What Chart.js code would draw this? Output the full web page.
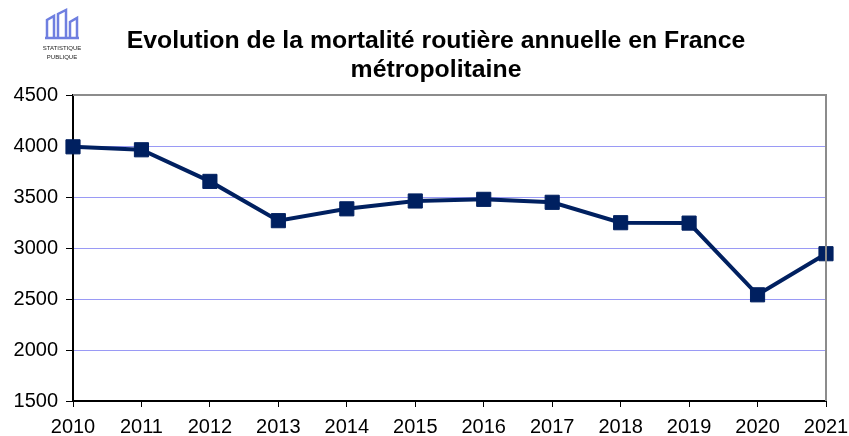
<!DOCTYPE html>
<html>
<head>
<meta charset="utf-8">
<script src="https://cdn.jsdelivr.net/npm/chart.js@4"></script>
<style>
  html, body { margin: 0; padding: 0; background: #fff; }
  #wrap { width: 849px; height: 436px; }
</style>
</head>
<body>
<div id="wrap"><canvas id="roadChart" width="849" height="436"></canvas></div>
<script>
// data
const years = ["2010", "2011", "2012", "2013", "2014", "2015", "2016", "2017", "2018", "2019", "2020", "2021"];
const deaths = [3992, 3963, 3653, 3268, 3384, 3461, 3477, 3448, 3248, 3244, 2541, 2944];
const titleLines = ["Evolution de la mortalité routière annuelle en France", "métropolitaine"];
const logoLines = ["STATISTIQUE", "PUBLIQUE"];

const navy = "#002060";

// title + logo + grey frame on top/right
const decorations = {
    id: "decorations",
    afterDraw(chart) {
        const ctx = chart.ctx;
        const area = chart.chartArea;
        ctx.save();

        // frame (top and right are grey)
        ctx.strokeStyle = "#8c8c8c";
        ctx.lineWidth = 2;
        ctx.beginPath();
        ctx.moveTo(area.left, area.top);
        ctx.lineTo(area.right, area.top);
        ctx.lineTo(area.right, area.bottom);
        ctx.stroke();

        // title
        ctx.fillStyle = "#000";
        ctx.font = "bold 24.8px 'Liberation Sans', Arial, sans-serif";
        ctx.textAlign = "center";
        ctx.textBaseline = "alphabetic";
        ctx.fillText(titleLines[0], 436, 48);
        ctx.fillText(titleLines[1], 436, 77);

        // logo
        ctx.strokeStyle = "#6f7fe0";
        ctx.lineWidth = 2.5;
        ctx.beginPath();
        ctx.moveTo(47, 38); ctx.lineTo(47, 20); ctx.lineTo(54, 16); ctx.lineTo(54, 38);
        ctx.moveTo(58, 38); ctx.lineTo(58, 14); ctx.lineTo(66, 10); ctx.lineTo(66, 38);
        ctx.moveTo(70, 38); ctx.lineTo(70, 22); ctx.lineTo(77, 18); ctx.lineTo(77, 38);
        ctx.moveTo(45, 38); ctx.lineTo(79, 38);
        ctx.stroke();
        ctx.fillStyle = "#222";
        ctx.font = "6px 'Liberation Sans', Arial, sans-serif";
        ctx.textBaseline = "middle";
        ctx.fillText(logoLines[0], 62, 48);
        ctx.fillText(logoLines[1], 62, 57);

        ctx.restore();
    }
};

new Chart(document.getElementById("roadChart"), {
    type: "line",
    data: {
        labels: years,
        datasets: [{
            data: deaths,
            borderColor: navy,
            backgroundColor: navy,
            borderWidth: 4,
            pointStyle: "rect",
            pointRadius: 10,
            pointHoverRadius: 10,
            pointBorderWidth: 1,
            tension: 0
        }]
    },
    options: {
        responsive: false,
        animation: false,
        layout: { padding: { top: 95, right: 23, left: 0, bottom: 0 } },
        plugins: {
            legend: { display: false },
            title: { display: false },
            tooltip: { enabled: false }
        },
        scales: {
            x: {
                offset: false,
                grid: { display: true, drawOnChartArea: false, drawTicks: true, tickLength: 6, tickColor: "#000" },
                border: { color: "#000", width: 2 },
                ticks: {
                    color: "#000",
                    font: { family: "'Liberation Sans', Arial, sans-serif", size: 20 },
                    padding: 8,
                    maxRotation: 0,
                    autoSkip: false
                },
                afterFit(axis) {
                    axis.height = 35;
                    axis.paddingLeft = 0;
                    axis.paddingRight = 0;
                }
            },
            y: {
                min: 1500,
                max: 4500,
                ticks: {
                    stepSize: 500,
                    color: "#000",
                    font: { family: "'Liberation Sans', Arial, sans-serif", size: 20 },
                    padding: 8,
                    callback: (v) => String(v)
                },
                grid: {
                    color: "#9a9af5",
                    lineWidth: 1,
                    tickLength: 7,
                    tickColor: "#000"
                },
                border: { color: "#000", width: 2 },
                afterFit(axis) {
                    axis.width = 73;
                    axis.paddingTop = 0;
                    axis.paddingBottom = 0;
                }
            }
        }
    },
    plugins: [decorations]
});
</script>
</body>
</html>
